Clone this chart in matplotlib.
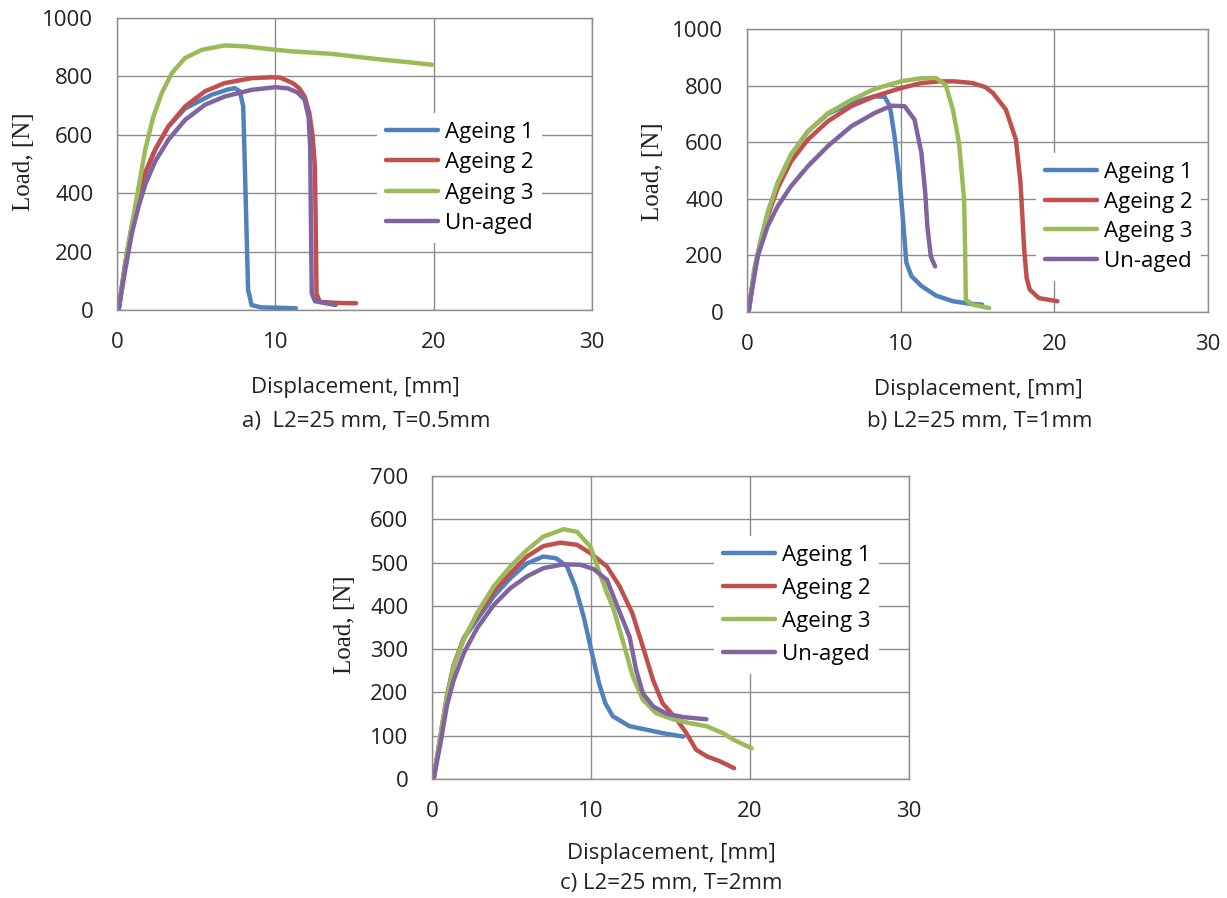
import matplotlib
matplotlib.use("Agg")
import matplotlib.pyplot as plt

# ---------------- data ----------------
labels = ["Ageing 1", "Ageing 2", "Ageing 3", "Un-aged"]
colors = ["#4F81BD", "#C0504D", "#9BBB59", "#8064A2"]

# Panel a) L2=25 mm, T=0.5mm
a_x1 = [0.1, 0.52, 0.94, 1.36, 1.78, 2.41, 3.25, 4.3, 5.97, 7.0, 7.44, 7.76, 7.97, 8.07, 8.18, 8.28, 8.5, 9.1, 11.3]
a_y1 = [0, 160, 286, 383, 469, 549, 629, 690, 737, 755, 760, 749, 697, 503, 274, 69, 17, 9, 6]
a_x2 = [0.1, 0.52, 0.94, 1.36, 1.78, 2.41, 3.25, 4.3, 5.56, 6.8, 8.5, 9.75, 10.3, 11.1, 11.5, 11.85, 12.15, 12.35, 12.5, 12.55, 12.6, 12.8, 14.0, 15.1]
a_y2 = [0, 160, 286, 383, 469, 549, 629, 697, 749, 777, 794, 797, 796, 777, 760, 731, 674, 600, 491, 300, 57, 28, 24, 23]
a_x3 = [0.1, 0.73, 1.26, 1.78, 2.3, 2.83, 3.46, 4.3, 5.35, 6.8, 8.07, 9.5, 11.0, 13.6, 15.0, 16.8, 18.5, 19.9]
a_y3 = [0, 229, 389, 549, 663, 743, 811, 863, 891, 906, 903, 894, 886, 877, 868, 857, 848, 840]
a_x4 = [0.1, 0.52, 0.94, 1.36, 1.78, 2.41, 3.25, 4.3, 5.56, 6.8, 8.5, 10.0, 10.8, 11.4, 11.85, 12.1, 12.2, 12.25, 12.3, 12.5, 13.8]
a_y4 = [0, 137, 263, 354, 429, 509, 583, 651, 703, 731, 754, 763, 759, 745, 720, 660, 560, 300, 57, 30, 17]

# Panel b) L2=25 mm, T=1mm
b_x1 = [0.1, 0.48, 0.91, 1.35, 2.0, 2.87, 3.96, 5.26, 6.78, 8.3, 8.96, 9.3, 9.6, 9.93, 10.15, 10.37, 10.7, 11.35, 12.3, 13.4, 14.4, 15.3]
b_y1 = [0, 151, 256, 351, 456, 556, 638, 700, 738, 762, 760, 727, 621, 468, 327, 174, 127, 92, 58, 38, 30, 26]
b_x2 = [0.1, 0.48, 0.91, 1.35, 2.0, 2.87, 3.96, 5.26, 6.78, 8.3, 10.0, 11.35, 12.5, 13.5, 14.67, 15.5, 16.0, 16.85, 17.5, 17.8, 18.04, 18.2, 18.4, 19.0, 20.2]
b_y2 = [0, 140, 250, 339, 438, 532, 609, 674, 727, 762, 791, 809, 815, 815, 809, 795, 774, 715, 609, 456, 220, 120, 79, 49, 38]
b_x3 = [0.1, 0.48, 0.91, 1.35, 2.0, 2.87, 3.96, 5.26, 6.78, 8.3, 10.0, 11.35, 12.3, 12.93, 13.4, 13.8, 14.13, 14.2, 14.24, 14.67, 15.76]
b_y3 = [0, 151, 256, 351, 456, 556, 638, 702, 749, 788, 815, 826, 827, 803, 715, 597, 397, 200, 44, 26, 14]
b_x4 = [0.1, 0.26, 0.7, 1.35, 2.0, 2.87, 3.96, 5.26, 6.78, 8.3, 9.4, 10.26, 10.9, 11.35, 11.6, 11.74, 11.96, 12.24]
b_y4 = [0, 56, 198, 304, 374, 445, 515, 586, 656, 703, 729, 727, 680, 562, 420, 300, 197, 161]

# Panel c) L2=25 mm, T=2mm
c_x1 = [0.1, 0.52, 0.94, 1.36, 2.0, 2.83, 3.88, 4.93, 5.97, 7.0, 7.8, 8.49, 9.0, 9.54, 10.06, 10.5, 10.9, 11.37, 12.42, 13.47, 14.5, 15.8]
c_y1 = [0, 95, 191, 262, 325, 368, 422, 464, 498, 514, 510, 491, 445, 375, 291, 222, 175, 145, 122, 114, 106, 98]
c_x2 = [0.1, 0.52, 0.94, 1.36, 2.0, 2.83, 3.88, 4.93, 5.97, 7.0, 8.07, 9.12, 9.96, 11.0, 11.8, 12.6, 13.26, 13.9, 14.5, 15.4, 16.0, 16.6, 17.3, 18.1, 19.0]
c_y2 = [0, 95, 191, 262, 325, 375, 433, 475, 514, 538, 546, 541, 522, 491, 445, 383, 306, 229, 175, 137, 106, 68, 52, 41, 25]
c_x3 = [0.1, 0.52, 0.94, 1.36, 2.0, 2.83, 3.88, 4.93, 5.97, 7.0, 8.28, 9.12, 9.96, 10.5, 11.0, 11.4, 12.0, 12.63, 13.26, 14.1, 15.16, 16.2, 17.26, 18.3, 18.95, 20.1]
c_y3 = [0, 98, 191, 260, 322, 383, 445, 491, 529, 560, 577, 571, 537, 480, 430, 395, 319, 237, 183, 152, 138, 129, 122, 106, 91, 71]
c_x4 = [0.1, 0.52, 0.94, 1.36, 2.0, 2.83, 3.88, 4.93, 5.97, 7.0, 8.28, 9.33, 10.17, 11.0, 11.58, 12.42, 12.84, 13.26, 13.9, 14.74, 15.8, 17.26]
c_y4 = [0, 80, 170, 228, 291, 348, 402, 441, 468, 487, 496, 495, 485, 460, 406, 329, 252, 198, 168, 151, 143, 138]

x_ticks = [0, 10, 20, 30]
y_ticks_ab = [0, 200, 400, 600, 800, 1000]
y_ticks_c = [0, 100, 200, 300, 400, 500, 600, 700]
x_label = "Displacement, [mm]"
y_label = "Load, [N]"
captions = ["a)  L2=25 mm, T=0.5mm", "b) L2=25 mm, T=1mm", "c) L2=25 mm, T=2mm"]

# ---------------- figure ----------------
W, H = 1227, 898
fig = plt.figure(figsize=(W / 100, H / 100), dpi=100)
SANS = ["Open Sans", "DejaVu Sans"]
SERIF = ["Liberation Serif", "DejaVu Serif"]
GRID = "#8c8c8c"
TXT = "#222222"


def px_rect(l, t, r, b):
    return [l / W, 1 - b / H, (r - l) / W, (b - t) / H]


def make_axes(rect, series, yticks, ymax, leg_px, leg_spacing):
    ax = fig.add_axes(rect)
    for (xs, ys), lab, col in zip(series, labels, colors):
        ax.plot(xs, ys, color=col, lw=3.2, label=lab,
                solid_joinstyle="round", solid_capstyle="round")
    ax.set_xlim(0, 30)
    ax.set_ylim(0, ymax)
    ax.set_xticks(x_ticks)
    ax.set_yticks(yticks)
    ax.grid(True, color=GRID, lw=1.0)
    ax.set_axisbelow(True)
    for s in ax.spines.values():
        s.set_color(GRID)
        s.set_linewidth(1.0)
    ax.tick_params(length=0, labelsize=16, colors=TXT)
    ax.tick_params(axis="y", pad=17)
    ax.tick_params(axis="x", pad=16)
    for t in ax.get_xticklabels() + ax.get_yticklabels():
        t.set_family(SANS)
    leg = ax.legend(loc="upper left",
                    bbox_to_anchor=(leg_px[0] / W, 1 - leg_px[1] / H),
                    bbox_transform=fig.transFigure,
                    frameon=True, fancybox=False, framealpha=1,
                    facecolor="white", edgecolor="none",
                    borderpad=0.4, borderaxespad=0,
                    handlelength=2.35, handletextpad=0.3,
                    labelspacing=leg_spacing,
                    prop={"family": SANS, "size": 16})
    for h in leg.get_lines():
        h.set_linewidth(3.2)
    return ax


ax_a = make_axes(px_rect(117, 18, 592, 310),
                 [(a_x1, a_y1), (a_x2, a_y2), (a_x3, a_y3), (a_x4, a_y4)],
                 y_ticks_ab, 1000, (377, 113), 0.42)
ax_b = make_axes(px_rect(747, 29, 1208, 312),
                 [(b_x1, b_y1), (b_x2, b_y2), (b_x3, b_y3), (b_x4, b_y4)],
                 y_ticks_ab, 1000, (1036, 153), 0.39)
ax_c = make_axes(px_rect(432, 476, 909, 779),
                 [(c_x1, c_y1), (c_x2, c_y2), (c_x3, c_y3), (c_x4, c_y4)],
                 y_ticks_c, 700, (714, 536), 0.54)


def ftext(x, y, s, **kw):
    fig.text(x / W, 1 - y / H, s, ha="center", va="center", **kw)


ftext(355, 388, x_label, family=SANS, size=16, color=TXT)
ftext(366, 422, captions[0], family=SANS, size=16, color=TXT)
ftext(978, 389, x_label, family=SANS, size=16, color=TXT)
ftext(980, 422, captions[1], family=SANS, size=16, color=TXT)
ftext(671, 853, x_label, family=SANS, size=16, color=TXT)
ftext(671, 884, captions[2], family=SANS, size=16, color=TXT)

ftext(24, 162, y_label, family=SERIF, size=18, rotation=90, color=TXT)
ftext(653, 172, y_label, family=SERIF, size=18, rotation=90, color=TXT)
ftext(345, 625, y_label, family=SERIF, size=18, rotation=90, color=TXT)

fig.savefig("out.png", dpi=100)
